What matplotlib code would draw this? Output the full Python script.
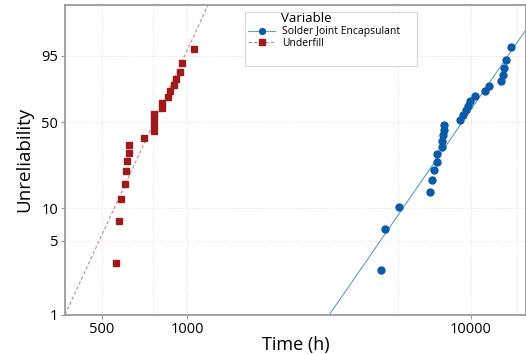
import numpy as np
import matplotlib
matplotlib.use("Agg")
import matplotlib.pyplot as plt
from matplotlib.patches import Rectangle
from matplotlib.lines import Line2D
from matplotlib.ticker import FixedLocator, FixedFormatter, NullLocator

plt.rcParams['font.family'] = ['Open Sans', 'DejaVu Sans']

# ---- data ----
underfill_time = [562, 573, 582, 601, 608, 613, 624, 624, 702, 765, 765, 765, 765,
                  812, 812, 857, 869, 898, 910, 942, 956, 1053]
underfill_pct = [3.13, 7.59, 12.05, 16.52, 20.98, 25.45, 29.91, 34.38, 38.84, 43.30,
                 47.77, 52.23, 56.70, 61.16, 65.63, 70.09, 74.55, 79.02, 83.48, 87.95,
                 92.41, 96.88]
solder_time = [4813, 4996, 5600, 7184, 7284, 7403, 7604, 7620, 7898, 7936, 7982, 8027,
               8066, 9153, 9394, 9603, 9783, 9968, 10380, 11205, 11576, 12790, 12970,
               13107, 13354, 13910]
solder_pct = [2.65, 6.44, 10.23, 14.02, 17.80, 21.59, 25.38, 29.17, 32.95, 36.74, 40.53,
              44.32, 48.11, 51.89, 55.68, 59.47, 63.26, 67.05, 70.83, 74.62, 78.41,
              82.20, 85.98, 89.77, 93.56, 97.35]
# fitted Weibull lines (shape, scale)
underfill_fit = (5.855, 811.0)
solder_fit = (3.92, 10235.0)

series_names = ['Solder Joint Encapsulant', 'Underfill']
y_ticks = [1, 5, 10, 50, 95]
x_ticks = [500, 1000, 10000]
x_grid = [500, 755, 1000, 5520, 10000, 14530]

RED = '#9e1b1b'
RED_LINE = '#d38585'
BLUE = '#0a5aa8'
BLUE_LINE = '#5f9bd3'


def fwd(p):
    p = np.clip(np.asarray(p, dtype=float), 1e-9, 100 - 1e-9)
    return np.log(-np.log(1 - p / 100.0))


def inv(w):
    return 100.0 * (1 - np.exp(-np.exp(np.asarray(w, dtype=float))))


fig = plt.figure(figsize=(5.26, 3.54), dpi=100)
ax = fig.add_axes([65 / 526, 39 / 354, 461 / 526, 310.4 / 354])
ax.set_xscale('log')
ax.set_yscale('function', functions=(fwd, inv))
ax.set_xlim(370, 15670)
ax.set_ylim(1, 99.99)

# grid
for g in x_grid:
    ax.axvline(g, color='#e4e4e4', lw=0.8, ls=(0, (1, 1.5)), zorder=0)
for g in [5, 10, 50, 95]:
    ax.axhline(g, color='#e4e4e4', lw=0.8, ls=(0, (1, 1.5)), zorder=0)

# fitted lines
t_r = np.geomspace(370, 1230, 200)
b, e = underfill_fit
ax.plot(t_r, 100 * (1 - np.exp(-(t_r / e) ** b)), color=RED_LINE, lw=0.8,
        ls=(0, (3, 2)), zorder=2)
t_b = np.geomspace(3000, 15670, 200)
b, e = solder_fit
ax.plot(t_b, 100 * (1 - np.exp(-(t_b / e) ** b)), color=BLUE_LINE, lw=0.8,
        zorder=2)

ax.plot(underfill_time, underfill_pct, 's', color=RED, ms=5, mec=RED, zorder=3)
ax.plot(solder_time, solder_pct, 'o', color=BLUE, ms=5, mec=BLUE, zorder=3)

ax.yaxis.set_major_locator(FixedLocator(y_ticks))
ax.yaxis.set_major_formatter(FixedFormatter([str(v) for v in y_ticks]))
ax.yaxis.set_minor_locator(NullLocator())
ax.xaxis.set_major_locator(FixedLocator(x_ticks))
ax.xaxis.set_major_formatter(FixedFormatter([str(v) for v in x_ticks]))
ax.xaxis.set_minor_locator(NullLocator())

for s in ['top', 'left', 'bottom', 'right']:
    ax.spines[s].set_color('#9a9a9a')
    ax.spines[s].set_linewidth(1.3)
ax.tick_params(axis='both', colors='#9a9a9a', labelcolor='black', length=3,
               width=0.8, labelsize=10.5, pad=2)

ax.set_xlabel('Time (h)', fontsize=13, labelpad=-1)
ax.set_ylabel('Unreliability', fontsize=13.5, labelpad=6)

# legend box
ax.add_patch(Rectangle((0.390, 0.802), 0.374, 0.175, transform=ax.transAxes,
                       facecolor='white', edgecolor='#d8d8d8', lw=0.8, zorder=4))
ax.text(0.468, 0.954, 'Variable', transform=ax.transAxes, fontsize=9.5,
        va='center', ha='left', zorder=6)
handles = [Line2D([], [], color=BLUE_LINE, lw=0.8, marker='o', ms=4.2, mfc=BLUE, mec=BLUE),
           Line2D([], [], color=RED_LINE, lw=0.8, ls=(0, (3, 2)), marker='s', ms=4.2,
                  mfc=RED, mec=RED)]
leg = ax.legend(handles, series_names,
                loc='upper left', bbox_to_anchor=(0.397, 0.93), frameon=False,
                fontsize=7.5, handlelength=2.6, handletextpad=0.65, labelspacing=0.05,
                borderpad=0, borderaxespad=0)
leg.set_zorder(5)

fig.savefig('out.png', dpi=100)
